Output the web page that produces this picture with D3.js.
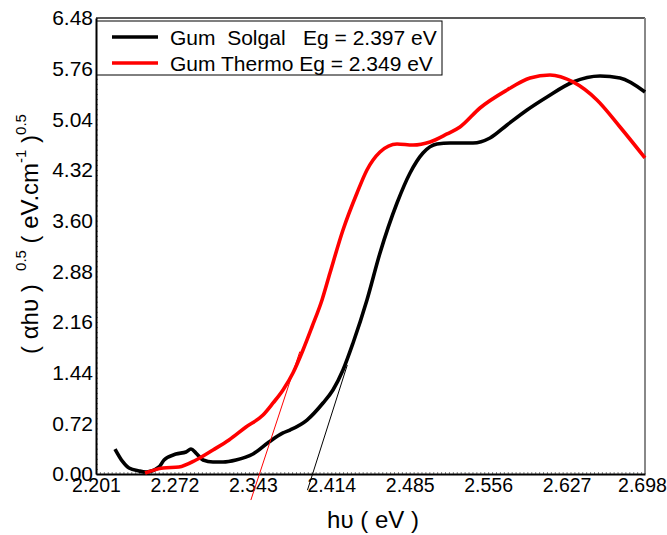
<!DOCTYPE html>
<html>
<head>
<meta charset="utf-8">
<script src="https://cdn.jsdelivr.net/npm/d3@7"></script>
<style>
  body { margin: 0; background: #fff; }
  svg { font-family: "Liberation Sans", Arial, sans-serif; }
</style>
</head>
<body>
<svg id="chart" width="667" height="535"></svg>
<script>
// values
const solgalX = [2.2182, 2.2252, 2.2309, 2.2399, 2.2463, 2.2580, 2.2626, 2.2734, 2.2825, 2.2870, 2.2915, 2.2979, 2.3069, 2.3160, 2.3277, 2.3431, 2.3576, 2.3703, 2.3766, 2.3920, 2.4065, 2.4155, 2.4246, 2.4337, 2.4463, 2.4581, 2.4735, 2.4853, 2.4970, 2.5097, 2.5215, 2.5423, 2.5577, 2.5731, 2.5912, 2.6093, 2.6328, 2.6573, 2.6754, 2.6980];
const solgalY = [0.355, 0.175, 0.085, 0.043, 0.028, 0.099, 0.199, 0.284, 0.313, 0.355, 0.298, 0.199, 0.171, 0.171, 0.199, 0.284, 0.455, 0.583, 0.625, 0.767, 1.009, 1.194, 1.478, 1.862, 2.473, 3.141, 3.851, 4.278, 4.562, 4.690, 4.704, 4.704, 4.775, 4.960, 5.173, 5.358, 5.571, 5.656, 5.628, 5.429];

const thermoX = [2.2454, 2.2617, 2.2761, 2.2915, 2.3069, 2.3214, 2.3368, 2.3522, 2.3613, 2.3703, 2.3793, 2.3884, 2.3965, 2.4056, 2.4128, 2.4246, 2.4373, 2.4463, 2.4581, 2.4735, 2.4880, 2.5034, 2.5188, 2.5305, 2.5486, 2.5731, 2.5939, 2.6120, 2.6328, 2.6545, 2.6754, 2.6980];
const thermoY = [0.014, 0.085, 0.099, 0.199, 0.341, 0.483, 0.668, 0.838, 1.009, 1.194, 1.435, 1.762, 2.089, 2.473, 2.856, 3.467, 3.993, 4.320, 4.576, 4.690, 4.675, 4.718, 4.832, 4.931, 5.201, 5.457, 5.628, 5.670, 5.571, 5.315, 4.931, 4.491];

// tangent (Tauc) lines: end points [x, y]
const solgalFit = [[2.3924, -0.23], [2.4285, 1.55]];
const thermoFit = [[2.3412, -0.37], [2.3855, 1.74]];

const xTicks = [2.201, 2.272, 2.343, 2.414, 2.485, 2.556, 2.627, 2.698];
const yTicks = [0, 0.72, 1.44, 2.16, 2.88, 3.60, 4.32, 5.04, 5.76, 6.48];

const legendLabels = ['Gum  Solgal   Eg = 2.397 eV', 'Gum Thermo Eg = 2.349 eV'];
const colors = ['#000000', '#ff0000'];

const margin = { left: 96, right: 22, top: 18, bottom: 61 };
const width = 667, height = 535;

const svg = d3.select('#chart');

const x = d3.scaleLinear().domain([2.201, 2.698]).range([margin.left, width - margin.right]);
const y = d3.scaleLinear().domain([0, 6.48]).range([height - margin.bottom, margin.top]);

// minor ticks, pointing inward
const xMinor = d3.range(0, 141).map(i => 2.201 + i * 0.071 / 20);
const yMinor = d3.range(0, 91).map(i => i * 0.072);

svg.append('g')
    .attr('transform', `translate(0,${y(0)})`)
    .call(d3.axisBottom(x).tickValues(xMinor).tickSize(-2).tickFormat(''))
    .call(g => g.select('.domain').remove())
    .selectAll('line').attr('stroke', '#333').attr('stroke-width', 0.6);

svg.append('g')
    .attr('transform', `translate(${x(2.201)},0)`)
    .call(d3.axisLeft(y).tickValues(yMinor).tickSize(-2).tickFormat(''))
    .call(g => g.select('.domain').remove())
    .selectAll('line').attr('stroke', '#333').attr('stroke-width', 0.6);

// frame
svg.append('line')
    .attr('x1', x(2.201)).attr('x2', x(2.698))
    .attr('y1', y(6.48)).attr('y2', y(6.48))
    .attr('stroke', '#222').attr('stroke-width', 1.5);
svg.append('line')
    .attr('x1', x(2.698)).attr('x2', x(2.698))
    .attr('y1', y(6.48)).attr('y2', y(0))
    .attr('stroke', '#888').attr('stroke-width', 2);

// major axes
const xAxis = svg.append('g')
    .attr('transform', `translate(0,${y(0)})`)
    .call(d3.axisBottom(x).tickValues(xTicks).tickSize(0).tickPadding(4).tickFormat(d3.format('.3f')));
xAxis.select('.domain').attr('stroke', '#000').attr('stroke-width', 2);
xAxis.selectAll('text').attr('font-size', 19.5).attr('fill', '#000')
    .attr('font-family', '"Liberation Sans", Arial, sans-serif')
    .attr('dx', (d, i) => i === xTicks.length - 1 ? -3 : 0);

const yAxis = svg.append('g')
    .attr('transform', `translate(${x(2.201)},0)`)
    .call(d3.axisLeft(y).tickValues(yTicks).tickSize(0).tickPadding(3).tickFormat(d3.format('.2f')));
yAxis.select('.domain').attr('stroke', '#000').attr('stroke-width', 2);
yAxis.selectAll('text').attr('font-size', 21).attr('fill', '#000')
    .attr('font-family', '"Liberation Sans", Arial, sans-serif');

// curves
const line = d3.line()
    .x(d => x(d[0]))
    .y(d => y(d[1]))
    .curve(d3.curveMonotoneX);

const series = [
    d3.zip(solgalX, solgalY),
    d3.zip(thermoX, thermoY)
];

svg.append('g')
    .selectAll('path')
    .data(series)
    .join('path')
    .attr('d', line)
    .attr('fill', 'none')
    .attr('stroke', (d, i) => colors[i])
    .attr('stroke-width', 3.6)
    .attr('stroke-linejoin', 'round');

// tangent lines
svg.append('g')
    .selectAll('path')
    .data([solgalFit, thermoFit])
    .join('path')
    .attr('d', d3.line().x(d => x(d[0])).y(d => y(d[1])))
    .attr('fill', 'none')
    .attr('stroke', (d, i) => colors[i])
    .attr('stroke-width', 1);

// legend
const legend = svg.append('g');
legend.append('rect')
    .attr('x', 97).attr('y', 21)
    .attr('width', 345).attr('height', 54)
    .attr('fill', '#fff').attr('stroke', '#000').attr('stroke-width', 1);

legendLabels.forEach((label, i) => {
    const ly = 37 + i * 26;
    legend.append('line')
        .attr('x1', 112).attr('x2', 158)
        .attr('y1', ly).attr('y2', ly)
        .attr('stroke', colors[i]).attr('stroke-width', 3.6);
    legend.append('text')
        .attr('x', 170).attr('y', ly + 8)
        .attr('font-size', 21)
        .style('white-space', 'pre')
        .text(label);
});

// axis titles
svg.append('text')
    .attr('x', 373).attr('y', 528)
    .attr('text-anchor', 'middle')
    .attr('font-size', 24)
    .text('h\u03c5 ( eV )');

const yTitle = svg.append('text')
    .attr('transform', 'translate(38,234) rotate(-90)')
    .attr('text-anchor', 'middle')
    .attr('font-size', 24)
    .style('white-space', 'pre');
yTitle.append('tspan').text('( \u03b1h\u03c5 )  ');
yTitle.append('tspan').attr('font-size', 15).attr('dy', -12).text('0.5');
yTitle.append('tspan').attr('dy', 12).text(' ( eV.cm');
yTitle.append('tspan').attr('font-size', 15).attr('dy', -12).text('-1');
yTitle.append('tspan').attr('dy', 12).text(' )');
yTitle.append('tspan').attr('font-size', 15).attr('dy', -12).text('0.5');
</script>
</body>
</html>
